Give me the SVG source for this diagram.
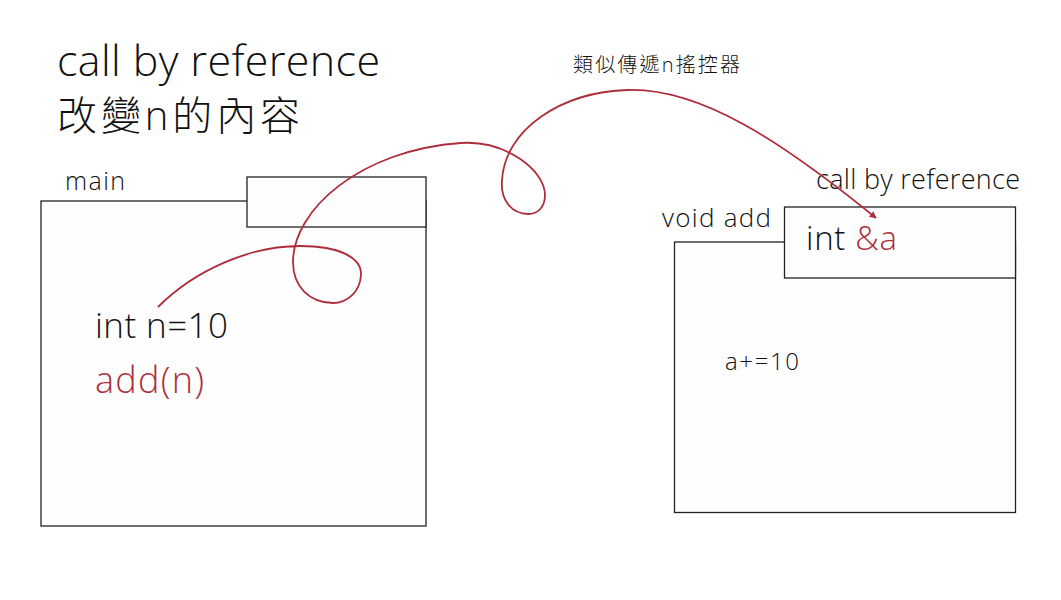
<svg xmlns="http://www.w3.org/2000/svg" width="1061" height="600" viewBox="0 0 1061 600">
<defs>
<style>
.t{font-family:"Segoe UI","Open Sans","Noto Sans","Noto Sans CJK TC",sans-serif;font-weight:300;fill:#111}
.r{fill:#AE2D3B}
.box{fill:#fefefe;stroke:#222;stroke-width:1.3}
.conn{fill:none;stroke:#AE2D3B;stroke-width:1.8}
</style>
<marker id="ah" viewBox="0 0 10 10" refX="9" refY="5" markerWidth="7" markerHeight="7" markerUnits="userSpaceOnUse" orient="auto">
<path d="M0,0 L10,5 L0,10 z" fill="#AE2D3B"/>
</marker>
</defs>
<rect width="1061" height="600" fill="#ffffff"/>
<g id="title">
<text class="t" x="57" y="76" font-size="43" textLength="323" lengthAdjust="spacing">call by reference</text>
<text class="t" x="57" y="130" font-size="40" textLength="243" lengthAdjust="spacing">改變n的內容</text>
</g>
<g id="main">
<rect class="box" x="41" y="201" width="385" height="325"/>
<rect class="box" x="247" y="177" width="179" height="50"/>
<text class="t" x="65" y="190" font-size="25" textLength="60" lengthAdjust="spacing">main</text>
<text class="t" x="95" y="338" font-size="35" textLength="133" lengthAdjust="spacing">int n=10</text>
<text class="t r" x="95" y="393" font-size="36" textLength="109" lengthAdjust="spacing">add(n)</text>
</g>
<g id="add">
<rect class="box" x="674.5" y="242" width="341" height="270.5"/>
<rect class="box" x="784.5" y="207" width="231" height="71"/>
<text class="t" x="662" y="227" font-size="26" textLength="109" lengthAdjust="spacing">void add</text>
<text class="t" x="816" y="189" font-size="27" textLength="204" lengthAdjust="spacing">call by reference</text>
<text class="t" x="806" y="250" font-size="33" textLength="91" lengthAdjust="spacing">int <tspan class="r">&amp;a</tspan></text>
<text class="t" x="725" y="370" font-size="24" textLength="74" lengthAdjust="spacing">a+=10</text>
</g>
<g id="connectors">
<path class="conn" marker-end="url(#ah)" d="M158,307 C195,270 250,246 300,246 C340,246 362,258 361,275 C360,292 347,303 333,303 C310,303 293,287 293,262 C293,210 360,150 461,143 C505,140 545,170 545,195 C545,207 538,214 528,214 C512,214 500,200 502,180 C505,130 560,92 628,90 C700,88 780,140 876,218"/>
<text class="t" x="573" y="72" font-size="20" textLength="167" lengthAdjust="spacing">類似傳遞n搖控器</text>
</g>
</svg>
